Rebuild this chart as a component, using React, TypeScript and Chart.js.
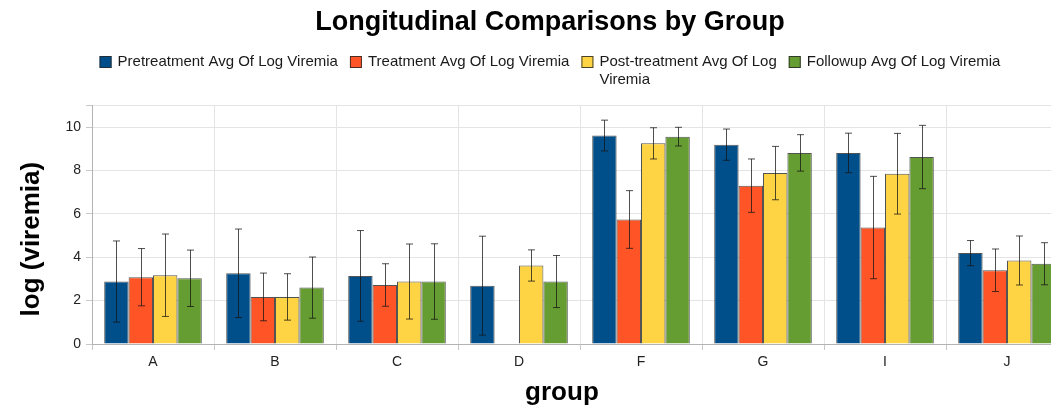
import React, { useEffect, useRef } from "react";
import { Chart, registerables } from "chart.js";

Chart.register(...registerables);

const categories = ["A", "B", "C", "D", "F", "G", "I", "J"];

const seriesNames: string[][] = [
  ["Pretreatment Avg Of Log Viremia"],
  ["Treatment Avg Of Log Viremia"],
  ["Post-treatment Avg Of Log", "Viremia"],
  ["Followup Avg Of Log Viremia"],
];

const pretreatment = [2.88, 3.26, 3.14, 2.69, 9.61, 9.19, 8.81, 4.19];
const treatment = [3.08, 2.17, 2.72, null, 5.74, 7.3, 5.37, 3.4];
const postTreatment = [3.17, 2.17, 2.88, 3.62, 9.25, 7.88, 7.85, 3.85];
const followup = [3.03, 2.6, 2.88, 2.88, 9.56, 8.81, 8.62, 3.7];

const pretreatmentErr = [1.87, 2.04, 2.09, 2.28, 0.71, 0.72, 0.91, 0.58];
const treatmentErr = [1.32, 1.1, 0.98, null, 1.33, 1.23, 2.36, 0.98];
const postTreatmentErr = [1.9, 1.07, 1.73, 0.72, 0.72, 1.23, 1.86, 1.13];
const followupErr = [1.3, 1.41, 1.74, 1.2, 0.43, 0.84, 1.46, 0.97];

const yTicks = [0, 2, 4, 6, 8, 10];

const colors = ["#004f8a", "#ff5526", "#ffd444", "#669d32"];

const FONT = "'Liberation Sans', Arial, sans-serif";

const errorBarPlugin = {
  id: "errorBars",
  afterDatasetsDraw(chart: any) {
    const ctx = chart.ctx;
    const yScale = chart.scales.y;
    const errs = [pretreatmentErr, treatmentErr, postTreatmentErr, followupErr];
    ctx.save();
    ctx.strokeStyle = "rgba(20,20,20,0.75)";
    ctx.lineWidth = 1;
    chart.data.datasets.forEach((ds: any, di: number) => {
      const meta = chart.getDatasetMeta(di);
      meta.data.forEach((bar: any, i: number) => {
        const v = ds.data[i];
        const e = errs[di][i];
        if (v == null || e == null) return;
        const x = Math.round(bar.x) + 0.5;
        const yt = yScale.getPixelForValue(v + e);
        const yb = yScale.getPixelForValue(v - e);
        const cap = 3.5;
        ctx.beginPath();
        ctx.moveTo(x, yt);
        ctx.lineTo(x, yb);
        ctx.moveTo(x - cap, yt);
        ctx.lineTo(x + cap, yt);
        ctx.moveTo(x - cap, yb);
        ctx.lineTo(x + cap, yb);
        ctx.stroke();
      });
    });
    ctx.restore();
  },
};

const legendPlugin = {
  id: "customLegend",
  afterDraw(chart: any) {
    const ctx = chart.ctx;
    ctx.save();
    ctx.font = `15px ${FONT}`;
    ctx.textBaseline = "middle";
    const box = 12;
    const boxGap = 6;
    const itemGap = 12;
    const lineH = 18;
    const widths = seriesNames.map(
      (lines) => box + boxGap + Math.max(...lines.map((l) => ctx.measureText(l).width))
    );
    const total = widths.reduce((a, b) => a + b, 0) + itemGap * (widths.length - 1);
    let x = chart.width / 2 - total / 2;
    const y = 62;
    seriesNames.forEach((lines, i) => {
      ctx.fillStyle = colors[i];
      ctx.fillRect(x, y - box / 2, box, box);
      ctx.strokeStyle = "rgba(40,40,40,0.85)";
      ctx.lineWidth = 1;
      ctx.strokeRect(x + 0.5, y - box / 2 + 0.5, box - 1, box - 1);
      ctx.fillStyle = "#1a1a1a";
      lines.forEach((l, li) => {
        ctx.fillText(l, x + box + boxGap, y + li * lineH);
      });
      x += widths[i] + itemGap;
    });
    ctx.restore();
  },
};

export default function App() {
  const ref = useRef<HTMLCanvasElement | null>(null);

  useEffect(() => {
    if (!ref.current) return;
    const mk = (d: (number | null)[], i: number) => ({
      label: seriesNames[i].join(" "),
      data: d,
      backgroundColor: colors[i],
      borderColor: "rgba(40,40,40,0.8)",
      borderWidth: 1,
      categoryPercentage: 0.8,
      barPercentage: 1.0,
    });
    const chart = new Chart(ref.current, {
      type: "bar",
      data: {
        labels: categories,
        datasets: [
          mk(pretreatment, 0),
          mk(treatment, 1),
          mk(postTreatment, 2),
          mk(followup, 3),
        ],
      },
      options: {
        animation: false,
        responsive: false,
        maintainAspectRatio: false,
        layout: { padding: 0 },
        plugins: {
          legend: { display: false },
          tooltip: { enabled: false },
          title: {
            display: true,
            text: "Longitudinal Comparisons by Group",
            color: "#000",
            font: { family: FONT, size: 27, weight: "bold", lineHeight: 1.2 },
            padding: { top: 6, bottom: 67 },
          },
        },
        scales: {
          x: {
            afterFit: (s: any) => {
              s.height = 62;
            },
            grid: {
              color: "#e4e4e4",
              tickLength: 6,
              tickColor: "#c8c8c8",
              offset: true,
            },
            border: { color: "#b3b3b3" },
            ticks: { color: "#222", font: { family: FONT, size: 14 }, padding: 4 },
            title: {
              display: true,
              text: "group     ",
              color: "#000",
              font: { family: FONT, size: 26, weight: "bold", lineHeight: 1 },
              padding: { top: -1, bottom: 0 },
            },
          },
          y: {
            min: 0,
            max: 11,
            afterFit: (s: any) => {
              s.width = 92;
            },
            afterBuildTicks: (s: any) => {
              s.ticks = [...yTicks.map((v) => ({ value: v })), { value: 11 }];
            },
            grid: { color: "#e4e4e4", tickLength: 6, tickColor: "#c8c8c8" },
            border: { color: "#b3b3b3" },
            ticks: {
              color: "#222",
              font: { family: FONT, size: 14 },
              padding: 5,
              callback: (v: any) => (yTicks.includes(Number(v)) ? String(v) : ""),
            },
            title: {
              display: true,
              text: "log (viremia)    ",
              color: "#000",
              font: { family: FONT, size: 26, weight: "bold", lineHeight: 1 },
              padding: { top: 19, bottom: 0 },
            },
          },
          yRight: {
            type: "linear",
            position: "right",
            display: true,
            min: 0,
            max: 11,
            afterFit: (s: any) => {
              s.width = 32;
            },
            grid: { display: false, drawTicks: false },
            border: { display: false },
            ticks: { display: false },
          },
        },
      },
      plugins: [errorBarPlugin, legendPlugin],
    });
    return () => chart.destroy();
  }, []);

  return (
    <div
      style={{
        position: "fixed",
        left: 0,
        top: 0,
        width: 1051,
        height: 406,
        overflow: "hidden",
        background: "#fff",
      }}
    >
      <canvas ref={ref} width={1100} height={406} style={{ width: 1100, height: 406, display: "block" }} />
    </div>
  );
}
